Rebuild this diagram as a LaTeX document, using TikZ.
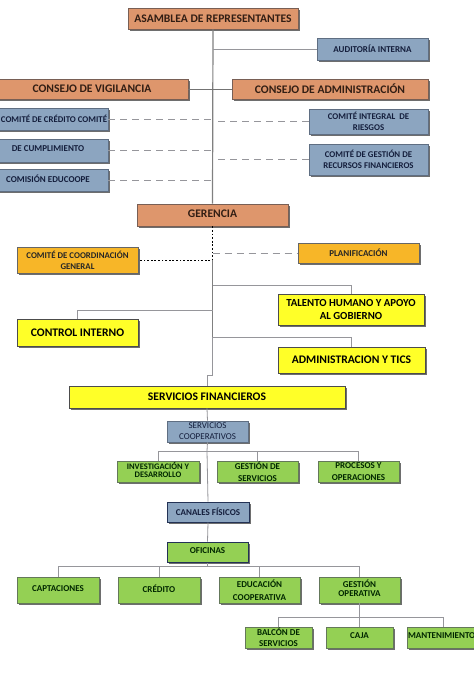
\documentclass[tikz,border=0pt]{standalone}
\usepackage{fontspec}
\setmainfont{Carlito}
\usetikzlibrary{shadows}
\definecolor{orng}{RGB}{222,150,108}
\definecolor{orngd}{RGB}{120,95,85}
\definecolor{otext}{RGB}{50,30,20}
\definecolor{bgray}{RGB}{140,165,192}
\definecolor{bgrayd}{RGB}{95,110,130}
\definecolor{btext}{RGB}{20,30,60}
\definecolor{ylw}{RGB}{255,255,40}
\definecolor{gold}{RGB}{247,182,40}
\definecolor{grn}{RGB}{148,208,84}
\definecolor{grnd}{RGB}{100,120,90}
\definecolor{navy}{RGB}{35,50,85}
\definecolor{shd}{RGB}{110,110,110}
\definecolor{lgray}{RGB}{150,150,155}
\newcommand\fsL{\bfseries\fontsize{11.6}{13}\selectfont}
\newcommand\fsS{\bfseries\fontsize{9}{10.5}\selectfont}
\begin{document}
\begin{tikzpicture}[x=1pt,y=-1pt,
  box/.style={rectangle, inner sep=1pt, align=center,
    drop shadow={shadow xshift=1.8pt,shadow yshift=-1.8pt,fill=shd,opacity=1}},
  obox/.style={box, fill=orng, draw=orngd, line width=0.6pt, text=otext},
  bbox/.style={box, fill=bgray, draw=bgrayd, line width=0.6pt, text=btext},
  ybox/.style={box, fill=ylw, draw=black!70, line width=0.6pt, text=black},
  gdbox/.style={box, fill=gold, draw=black!60, line width=0.6pt, text=black!85},
  gbox/.style={box, fill=grn, draw=grnd, line width=0.6pt, text=black!85!green},
  conn/.style={draw=lgray, line width=0.8pt},
  trunk/.style={draw=black!50, line width=1.2pt},
  dsh/.style={draw=lgray, line width=0.9pt, dash pattern=on 7pt off 5pt},
  dtt/.style={draw=black, line width=1pt, dash pattern=on 1.8pt off 1.8pt}
]
\useasboundingbox (0,0) rectangle (474,675);
\clip (0,0) rectangle (474,675);
\fill[white] (0,0) rectangle (474,675);

% ---------- nodes ----------
\node[obox, minimum width=170pt, minimum height=21pt, font=\fsL] (asam) at (213,18.5) {ASAMBLEA DE REPRESENTANTES};
\node[bbox, minimum width=111pt, minimum height=22pt, font=\fsS] (aud) at (372.5,49) {AUDITORÍA INTERNA};
\node[obox, minimum width=192pt, minimum height=20pt, font=\fsL] (vig) at (92,89) {CONSEJO DE VIGILANCIA};
\node[obox, minimum width=196pt, minimum height=20pt, font=\fsL] (adm) at (330,89) {CONSEJO DE ADMINISTRACIÓN};

\node[bbox, minimum width=120pt, minimum height=22pt, inner sep=0pt, font=\bfseries\fontsize{8.8}{10}\selectfont] (cred) at (48,119) {\hspace*{12pt}COMITÉ DE CRÉDITO COMITÉ};
\node[bbox, minimum width=120pt, minimum height=23pt, font=\fsS] (cump) at (48,150.5) {\raisebox{4pt}{DE CUMPLIMIENTO}};
\node[bbox, minimum width=120pt, minimum height=22pt, font=\fsS] (educo) at (48,180) {\raisebox{3pt}{COMISIÓN EDUCOOPE}};
\node[bbox, minimum width=119pt, minimum height=25pt, inner sep=0pt, font=\bfseries\fontsize{8.8}{11.5}\selectfont] (ries) at (368.5,121.5) {COMITÉ INTEGRAL\ \ DE\\RIESGOS};
\node[bbox, minimum width=119pt, minimum height=31pt, inner sep=0pt, font=\bfseries\fontsize{8.8}{11.5}\selectfont] (recu) at (368.5,159.5) {COMITÉ DE GESTIÓN DE\\RECURSOS FINANCIEROS};

\node[obox, minimum width=151pt, minimum height=22pt, font=\fsL] (ger) at (212.5,215) {\raisebox{3pt}{GERENCIA}};

\node[gdbox, minimum width=121pt, minimum height=26pt, inner sep=0pt, font=\bfseries\fontsize{8.8}{11}\selectfont] (coord) at (77.5,260) {COMITÉ DE COORDINACIÓN\\GENERAL};
\node[gdbox, minimum width=121pt, minimum height=20pt, font=\fsS] (plan) at (358.5,253) {\raisebox{-3pt}{PLANIFICACIÓN}};
\node[ybox, minimum width=146pt, minimum height=31pt, inner sep=0pt, font=\bfseries\fontsize{10.8}{13}\selectfont] (tal) at (351,309.5) {TALENTO HUMANO Y APOYO\\AL GOBIERNO};
\node[ybox, minimum width=121pt, minimum height=27pt, font=\fsL] (ctrl) at (77.5,332.5) {CONTROL INTERNO};
\node[ybox, minimum width=147pt, minimum height=26pt, font=\fsL] (admt) at (351.5,360) {ADMINISTRACION Y TICS};
\node[ybox, minimum width=276pt, minimum height=22pt, font=\fsL] (sf) at (207,397) {SERVICIOS FINANCIEROS};

\node[bbox, minimum width=81pt, minimum height=21pt, inner sep=0pt, font=\fontsize{9}{11}\selectfont] (scoop) at (207.5,431.5) {SERVICIOS\\COOPERATIVOS};
\node[gbox, minimum width=82pt, minimum height=21pt, inner sep=0pt, font=\bfseries\fontsize{8.5}{8.5}\selectfont] (inv) at (158,471.5) {\raisebox{3pt}{\shortstack{INVESTIGACIÓN Y\\[-1pt]DESARROLLO}}};
\node[gbox, minimum width=81pt, minimum height=21pt, inner sep=0pt, font=\bfseries\fontsize{9}{11.5}\selectfont] (gest) at (257.5,471.5) {GESTIÓN DE\\SERVICIOS};
\node[gbox, minimum width=81pt, minimum height=21pt, inner sep=0pt, font=\bfseries\fontsize{9}{11.5}\selectfont] (proc) at (358.5,471.5) {PROCESOS Y\\OPERACIONES};

\node[bbox, draw=navy, line width=1pt, minimum width=82pt, minimum height=20pt, font=\fsS] (can) at (208,512) {CANALES FÍSICOS};
\node[gbox, draw=navy, line width=1pt, minimum width=81pt, minimum height=20pt, font=\fsS] (ofi) at (207.5,552) {\raisebox{3pt}{OFICINAS}};

\node[gbox, minimum width=82pt, minimum height=26pt, font=\fsS] (capt) at (58,590) {\raisebox{3pt}{CAPTACIONES}};
\node[gbox, minimum width=82pt, minimum height=26pt, font=\fsS] (credi) at (159,590) {\raisebox{3pt}{CRÉDITO}};
\node[gbox, minimum width=81pt, minimum height=26pt, inner sep=0pt, font=\bfseries\fontsize{9}{13}\selectfont] (educ) at (259.5,590) {EDUCACIÓN\\COOPERATIVA};
\node[gbox, minimum width=81pt, minimum height=26pt, inner sep=0pt, font=\bfseries\fontsize{9}{13}\selectfont] (gop) at (359.5,590) {\raisebox{3pt}{\shortstack{GESTIÓN\\OPERATIVA}}};

\node[gbox, minimum width=67pt, minimum height=21pt, inner sep=0pt, font=\bfseries\fontsize{9}{11}\selectfont] (balc) at (278.5,637.5) {BALCÓN DE\\SERVICIOS};
\node[gbox, minimum width=67pt, minimum height=21pt, font=\fsS] (caja) at (359.5,637.5) {\raisebox{3pt}{CAJA}};
\node[gbox, minimum width=72pt, minimum height=21pt, font=\fsS] (mant) at (443,637.5) {\raisebox{3pt}{\makebox[70pt][l]{MANTENIMIENTO}}};

% ---------- connectors ----------
\coordinate (t1) at (ger.south |- coord.east);
\coordinate (t2) at (212.5,337);
\coordinate (t3) at (212.5,375);
\coordinate (t4) at (207,375);

\draw[trunk] (asam.south) -- (ger.north);
\draw[conn] (asam.south |- aud.west) -- (aud.west);
\draw[conn, line width=1pt, draw=black!55] (vig.east) -- (adm.west);
\draw[dsh] (cred.east) -- (asam.south |- cred.east);
\draw[dsh] (cump.east) -- (asam.south |- cump.east);
\draw[dsh] (educo.east) -- (asam.south |- educo.east);
\draw[dsh] (ries.west) -- (asam.south |- ries.west);
\draw[dsh] (recu.west) -- (asam.south |- recu.west);

\draw[dtt] (ger.south) -- (t1) -- (coord.east);
\draw[dsh] (ger.south |- plan.west) -- (plan.west);
\draw[trunk] (t1) -- (t2);
\draw[conn] (ger.south |- 0,285) -| (tal.north);
\draw[conn] (ger.south |- 0,310) -| (ctrl.north);
\draw[conn] (t2) -| (admt.north);
\draw[conn] (t2) -- (t3) -- (t4) -- (sf.north);

\coordinate (s1) at (sf.south |- 0,451);
\draw[conn] (sf.south) -- (scoop.north);
\draw[conn] (scoop.south) -- (s1);
\draw[conn] (s1) -- (can.north);
\draw[conn] (inv.north) |- (s1);
\draw[conn] (gest.north) |- (s1);
\draw[conn] (proc.north) |- (s1);

\draw[conn] (can.south) -- (ofi.north);
\coordinate (o1) at (ofi.south |- 0,566);
\draw[conn] (ofi.south) -- (o1);
\draw[conn] (capt.north) |- (o1);
\draw[conn] (credi.north) |- (o1);
\draw[conn] (educ.north) |- (o1);
\draw[conn] (gop.north) |- (o1);

\coordinate (g1) at (gop.south |- 0,617);
\draw[conn] (gop.south) -- (g1);
\draw[conn] (balc.north) |- (g1);
\draw[conn] (caja.north) -- (g1);
\draw[conn] (mant.north) |- (g1);
\end{tikzpicture}
\end{document}
